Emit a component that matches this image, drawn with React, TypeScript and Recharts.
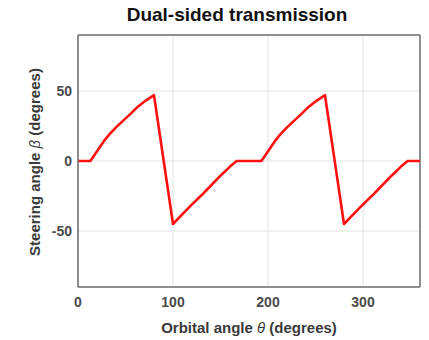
import { LineChart, Line, XAxis, YAxis, CartesianGrid, ReferenceLine } from 'recharts';

// orbital angle theta (deg) and steering angle beta (deg)
const theta = [0, 13, 17, 22, 27, 33, 40, 47, 55, 63, 71, 80, 100, 110, 120, 130, 140, 150, 160, 167,
  193, 197, 202, 207, 213, 220, 227, 235, 243, 251, 260, 280, 290, 300, 310, 320, 330, 340, 347, 360];
const beta = [0, 0, 4, 9, 14, 19, 24, 28.5, 33.5, 38.8, 43, 47, -45, -38, -31, -24.5, -17.5, -10.5, -4, 0,
  0, 4, 9, 14, 19, 24, 28.5, 33.5, 38.8, 43, 47, -45, -38, -31, -24.5, -17.5, -10.5, -4, 0, 0];

const xTicks = [0, 100, 200, 300];
const yTicks = [-50, 0, 50];

const data = theta.map((t, i) => ({ theta: t, beta: beta[i] }));

const font = 'Arial, "Liberation Sans", Helvetica, sans-serif';
const tickStyle = { fontSize: 14, fontWeight: 700, fill: '#4a4a4a', fontFamily: font };
const boxLine = { stroke: '#6b6b6b', strokeWidth: 1.5 };

export default function App() {
  return (
    <div style={{ position: 'absolute', left: 0, top: 0, width: 429, height: 340, background: '#fff', fontFamily: font }}>
      <div style={{ position: 'absolute', left: 0, width: 474, top: 4, textAlign: 'center', fontSize: 19, fontWeight: 700, color: '#111', lineHeight: '22px' }}>
        Dual-sided transmission
      </div>
      <LineChart width={429} height={340} data={data} margin={{ top: 35, right: 9, bottom: 0, left: 0 }}>
        <CartesianGrid stroke="#e3e3e3" strokeWidth={1} horizontalValues={yTicks} verticalValues={xTicks} />
        <XAxis
          dataKey="theta"
          type="number"
          domain={[0, 360]}
          ticks={xTicks}
          height={53}
          tickLine={false}
          tickMargin={4}
          axisLine={boxLine}
          tick={tickStyle}
        />
        <YAxis
          type="number"
          domain={[-90, 90]}
          ticks={yTicks}
          width={78}
          tickLine={false}
          tickMargin={0}
          axisLine={boxLine}
          tick={tickStyle}
        />
        <ReferenceLine x={360} {...boxLine} ifOverflow="visible" />
        <ReferenceLine y={90} {...boxLine} ifOverflow="visible" />
        <Line
          type="linear"
          dataKey="beta"
          stroke="#ff1010"
          strokeWidth={2.6}
          strokeLinejoin="round"
          dot={false}
          isAnimationActive={false}
        />
      </LineChart>
      <div style={{ position: 'absolute', left: 0, width: 498, top: 319, textAlign: 'center', fontSize: 15, fontWeight: 700, color: '#3a3a3a', lineHeight: '18px' }}>
        Orbital angle <span style={{ fontStyle: 'italic', fontWeight: 400 }}>θ</span> (degrees)
      </div>
      <div style={{ position: 'absolute', left: 35, top: 162, width: 0, height: 0 }}>
        <div style={{ position: 'absolute', left: -150, top: -9, width: 300, textAlign: 'center', transform: 'rotate(-90deg)', fontSize: 15, fontWeight: 700, color: '#3a3a3a', lineHeight: '18px', whiteSpace: 'nowrap' }}>
          Steering angle <span style={{ fontStyle: 'italic', fontWeight: 400 }}>β</span> (degrees)
        </div>
      </div>
    </div>
  );
}
